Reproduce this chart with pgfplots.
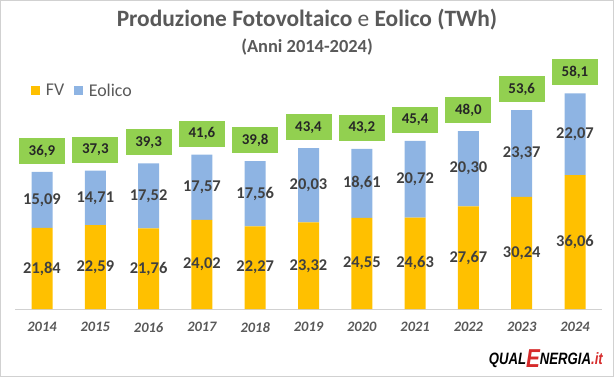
\documentclass[border=0pt]{standalone}
\usepackage{pgfplots}
\pgfplotsset{compat=1.18}
\usepackage{pgfplotstable}
\usepackage{fontspec}
\setmainfont{Carlito}
\newfontfamily\logofont{Liberation Sans}
\definecolor{fv}{HTML}{FFC000}
\definecolor{eo}{HTML}{8EB4E3}
\definecolor{tot}{HTML}{92D050}
\definecolor{txt}{HTML}{404040}
\definecolor{ttl}{HTML}{595959}
\definecolor{logored}{HTML}{D62B2B}

\pgfplotstableread{
x fv eo tot fvl eol totl
0 21.84 15.09 36.93 21,84 15,09 36,9
1 22.59 14.71 37.30 22,59 14,71 37,3
2 21.76 17.52 39.28 21,76 17,52 39,3
3 24.02 17.57 41.59 24,02 17,57 41,6
4 22.27 17.56 39.83 22,27 17,56 39,8
5 23.32 20.03 43.35 23,32 20,03 43,4
6 24.55 18.61 43.16 24,55 18,61 43,2
7 24.63 20.72 45.35 24,63 20,72 45,4
8 27.67 20.30 47.97 27,67 20,30 48,0
9 30.24 23.37 53.61 30,24 23,37 53,6
10 36.06 22.07 58.13 36,06 22,07 58,1
}\data

\pgfplotsset{
  common/.style={
    at={(15.35bp,68bp)}, anchor=south west,
    scale only axis, width=586.3bp, height=259.7bp,
    xmin=-0.5, xmax=10.5, ymin=0, ymax=70, clip=false,
  }
}

\begin{document}
\begin{tikzpicture}[x=1bp,y=1bp]
\path (0,0) rectangle (614,377);
\draw[draw=black!18, line width=1bp] (0.5,0.5) rectangle (613.5,376.5);

\begin{axis}[common,
  ybar stacked, bar width=21bp,
  axis x line*=bottom, axis y line=none,
  x axis line style={draw=black!18, line width=0.8bp},
  xtick={0,...,10},
  xticklabels={2014,2015,2016,2017,2018,2019,2020,2021,2022,2023,2024},
  xtick style={draw=none},
  xticklabel style={font=\bfseries\itshape\fontsize{14.5}{16}\selectfont, text=ttl, yshift=-10bp},
  ytick=\empty,
  legend columns=2,
  legend style={draw=none, fill=none, at={(rel axis cs:0.022,0.84)}, anchor=west,
    font=\fontsize{18}{20}\selectfont, text=ttl,
    /tikz/every odd column/.append style={column sep=4bp},
    /tikz/every even column/.append style={column sep=8bp}},
  legend image code/.code={\fill[#1] (0bp,-4.5bp) rectangle (8.5bp,4.5bp);},
]
\addplot[fill=fv, draw=none] table[x=x,y=fv]{\data};
\addplot[fill=eo, draw=none] table[x=x,y=eo]{\data};
\legend{FV,Eolico}
\end{axis}

\begin{axis}[common, hide axis]
\addplot[draw=none, mark=none, nodes near coords, point meta=explicit symbolic,
  nodes near coords style={anchor=center, font=\bfseries\fontsize{16.5}{18}\selectfont, text=txt}]
  table[x=x, y expr=\thisrow{fv}/2, meta=fvl]{\data};
\addplot[draw=none, mark=none, nodes near coords, point meta=explicit symbolic,
  nodes near coords style={anchor=center, font=\bfseries\fontsize{16.5}{18}\selectfont, text=txt}]
  table[x=x, y expr=\thisrow{fv}+\thisrow{eo}/2, meta=eol]{\data};
\addplot[draw=none, mark=none, nodes near coords, point meta=explicit symbolic,
  nodes near coords style={anchor=center, fill=tot, minimum width=46bp, minimum height=26bp,
    inner sep=0pt, yshift=21bp, font=\bfseries\fontsize{15}{16}\selectfont, text=black!85}]
  table[x=x, y=tot, meta=totl]{\data};
\end{axis}

\node[font=\bfseries\fontsize{23.5}{27}\selectfont, text=ttl] at (307,357) {Produzione Fotovoltaico {\mdseries e} Eolico (TWh)};
\node[font=\bfseries\fontsize{18.5}{21}\selectfont, text=ttl] at (307,330) {(Anni 2014-2024)};
\node[anchor=base east, inner sep=0pt] at (603,13) {\logofont\bfseries\itshape\scalebox{0.8}[1]{\fontsize{16.5}{18}\selectfont QUAL\raisebox{-3bp}{\color{logored}\fontsize{26}{28}\selectfont E}NERGIA{\color{logored}.it}}};
\end{tikzpicture}
\end{document}
